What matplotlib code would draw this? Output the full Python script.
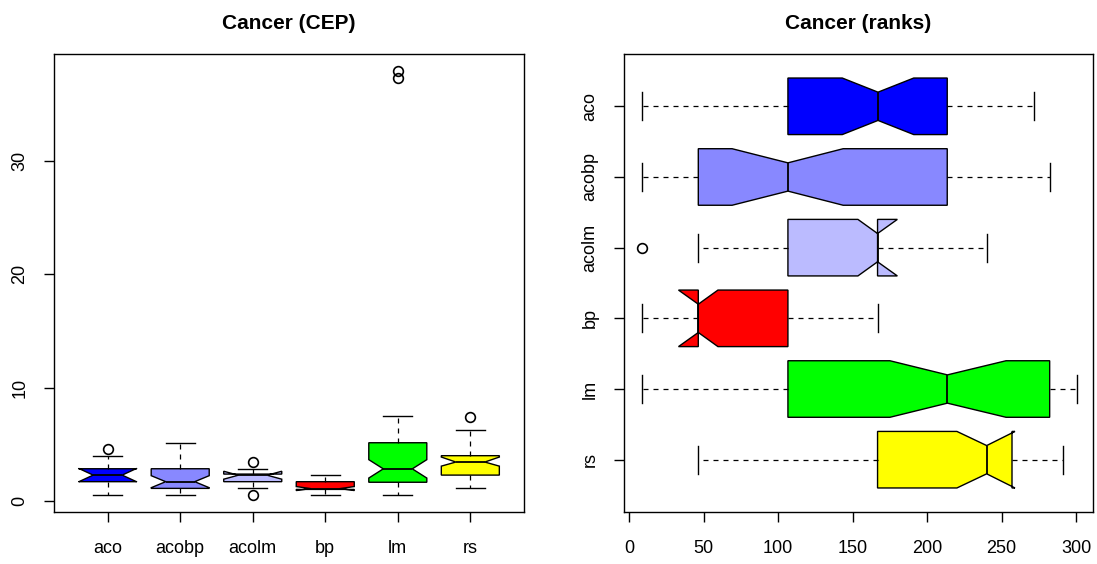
import matplotlib
matplotlib.use("Agg")
import matplotlib.pyplot as plt

plt.rcParams['font.family'] = ['Liberation Sans', 'DejaVu Sans']

methods = ["aco", "acobp", "acolm", "bp", "lm", "rs"]
colors = ["#0000FF", "#8888FF", "#BBBBFF", "#FF0000", "#00FF00", "#FFFF00"]

# Cancer (CEP) summary statistics
cep_whislo = [0.55, 0.55, 1.14, 0.53, 0.55, 1.14]
cep_q1 = [1.73, 1.14, 1.73, 1.05, 1.68, 2.31]
cep_med = [2.31, 1.73, 2.30, 1.12, 2.86, 3.46]
cep_q3 = [2.87, 2.87, 2.40, 1.73, 5.16, 4.02]
cep_whishi = [4.02, 5.16, 2.87, 2.29, 7.48, 6.30]
cep_cilo = [1.72, 1.20, 1.95, 0.95, 2.05, 3.10]
cep_cihi = [2.90, 2.26, 2.65, 1.30, 3.67, 3.90]
cep_fliers = [[4.63], [], [3.46, 0.55], [], [37.3, 37.9], [7.45]]

# Cancer (ranks) summary statistics
rk_whislo = [8.7, 8.7, 46.3, 8.7, 8.7, 46.3]
rk_q1 = [106.5, 46.3, 106.5, 46.3, 106.5, 166.7]
rk_med = [167.0, 106.5, 166.7, 46.3, 213.6, 240.0]
rk_q3 = [213.5, 213.5, 166.7, 106.5, 282.3, 257.0]
rk_whishi = [271.5, 282.5, 240.0, 166.7, 300.7, 291.0]
rk_cilo = [143.0, 69.0, 153.5, 33.0, 175.0, 220.0]
rk_cihi = [191.0, 143.6, 180.0, 59.5, 253.0, 259.0]
rk_fliers = [[], [], [8.7], [], [], []]


def make_stats(wl, q1, med, q3, wh, cilo, cihi, fl):
    out = []
    for i in range(len(methods)):
        out.append(dict(label=methods[i], whislo=wl[i], q1=q1[i], med=med[i],
                        q3=q3[i], whishi=wh[i], cilo=cilo[i], cihi=cihi[i],
                        fliers=fl[i]))
    return out


W, H = 1097, 564
fig = plt.figure(figsize=(W / 100, H / 100), dpi=100)
ax1 = fig.add_axes([54 / W, 1 - 512 / H, 470 / W, 458 / H])
ax2 = fig.add_axes([624 / W, 1 - 512 / H, 469 / W, 458 / H])

common = dict(
    shownotches=True, widths=0.8, patch_artist=True,
    boxprops=dict(edgecolor='black', linewidth=1.0),
    medianprops=dict(color='black', linewidth=1.3),
    whiskerprops=dict(color='black', linewidth=0.9, linestyle=(0, (4, 4))),
    capprops=dict(color='black', linewidth=1.0),
    flierprops=dict(marker='o', markerfacecolor='none', markeredgecolor='black',
                    markersize=7, markeredgewidth=1.2),
    capwidths=0.4,
)

positions = list(range(1, len(methods) + 1))

b1 = ax1.bxp(make_stats(cep_whislo, cep_q1, cep_med, cep_q3, cep_whishi,
                        cep_cilo, cep_cihi, cep_fliers),
             positions=positions, orientation='vertical', **common)
b2 = ax2.bxp(make_stats(rk_whislo, rk_q1, rk_med, rk_q3, rk_whishi,
                        rk_cilo, rk_cihi, rk_fliers),
             positions=positions, orientation='horizontal', **common)

for b in (b1, b2):
    for patch, c in zip(b['boxes'], colors):
        patch.set_facecolor(c)

ax1.set_xlim(0.26, 6.74)
ax1.set_ylim(-0.94, 39.4)
ax1.set_xticks(positions)
ax1.set_xticklabels(methods)
ax1.set_yticks([0, 10, 20, 30])
ax1.set_yticklabels(['0', '10', '20', '30'], rotation=90, va='center')

ax2.set_ylim(6.74, 0.26)
ax2.set_xlim(-3.6, 311.4)
ax2.set_yticks(positions)
ax2.set_yticklabels(methods, rotation=90, va='center')
ax2.set_xticks([0, 50, 100, 150, 200, 250, 300])

for ax, title in ((ax1, "Cancer (CEP)"), (ax2, "Cancer (ranks)")):
    ax.set_title(title, fontsize=15, fontweight='bold', pad=18)
    ax.tick_params(direction='out', length=7.5, width=1.0, labelsize=13,
                   pad=11, color='black')
    ax.tick_params(axis='x', pad=12.5)
    for s in ax.spines.values():
        s.set_linewidth(1.0)
        s.set_color('black')

fig.savefig("out.png", dpi=100)
